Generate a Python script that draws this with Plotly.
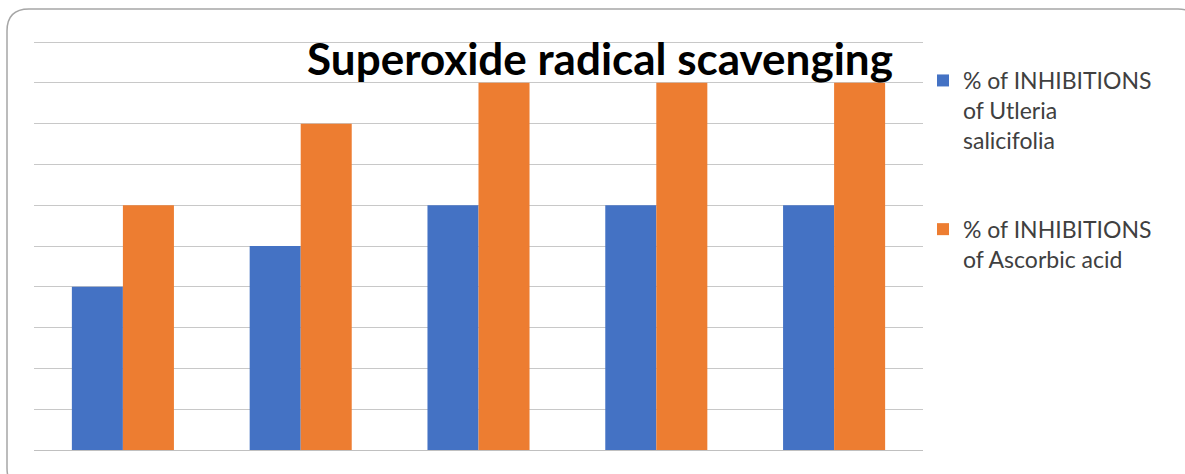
import plotly.graph_objects as go

# Five test concentrations (axis labels are hidden on this chart)
categories = ["C1", "C2", "C3", "C4", "C5"]
utleria_inhibition = [4, 5, 6, 6, 6]
ascorbic_inhibition = [6, 8, 9, 9, 9]

series_names = [
    "% of INHIBITIONS<br>of Utleria<br>salicifolia",
    "% of INHIBITIONS<br>of Ascorbic acid",
]

W, H = 1185, 474
Y_MAX = 10.1
L, R, B = 34, 262, 24
T = 42 - round(408 * (Y_MAX - 10) / 10)
pw, ph = W - L - R, H - T - B


def px(x):
    return (x - L) / pw


def py(y):
    return (H - B - y) / ph


fig = go.Figure()
fig.add_trace(go.Bar(x=categories, y=utleria_inhibition, name=series_names[0],
                     legendgroup="a",
                     marker=dict(color="#4472C4", line=dict(width=0))))
fig.add_trace(go.Bar(x=categories, y=ascorbic_inhibition, name=series_names[1],
                     legendgroup="b",
                     marker=dict(color="#ED7D31", line=dict(width=0))))

# Rounded outer frame
x0, x1, y0, y1, r = 7, 1200, 9, 490, 22
path = (
    f"M {px(x0)},{py(y0 + r)} "
    f"Q {px(x0)},{py(y0)} {px(x0 + r)},{py(y0)} "
    f"L {px(x1 - r)},{py(y0)} "
    f"Q {px(x1)},{py(y0)} {px(x1)},{py(y0 + r)} "
    f"L {px(x1)},{py(y1 - r)} "
    f"Q {px(x1)},{py(y1)} {px(x1 - r)},{py(y1)} "
    f"L {px(x0 + r)},{py(y1)} "
    f"Q {px(x0)},{py(y1)} {px(x0)},{py(y1 - r)} Z"
)
fig.add_shape(type="path", path=path, xref="paper", yref="paper",
              line=dict(color="#a6a6a6", width=1.5), fillcolor="rgba(0,0,0,0)", layer="below")

fig.update_layout(
    width=W, height=H,
    margin=dict(l=L, r=R, t=T, b=B),
    paper_bgcolor="white", plot_bgcolor="white",
    barmode="group", bargap=0.426, bargroupgap=0,
    title=dict(text="<b>Superoxide radical scavenging</b>",
               font=dict(family="Lato", size=44, color="black"),
               x=600 / W, xanchor="center", y=1 - 60 / H, yanchor="middle"),
    xaxis=dict(showticklabels=False, showgrid=False, showline=True,
               linecolor="#c0c0c0", linewidth=1, ticks=""),
    yaxis=dict(range=[0, Y_MAX], tick0=0, dtick=1, showticklabels=False, showgrid=True,
               gridcolor="#c8c8c8", gridwidth=1, zeroline=False, ticks=""),
    legend=dict(x=px(923), y=py(59), xanchor="left", yanchor="top",
                font=dict(family="Lato", size=23, color="#404040"),
                valign="top", tracegroupgap=56, itemwidth=30,
                bgcolor="rgba(0,0,0,0)"),
    showlegend=True,
)

fig.write_html("out.html")
